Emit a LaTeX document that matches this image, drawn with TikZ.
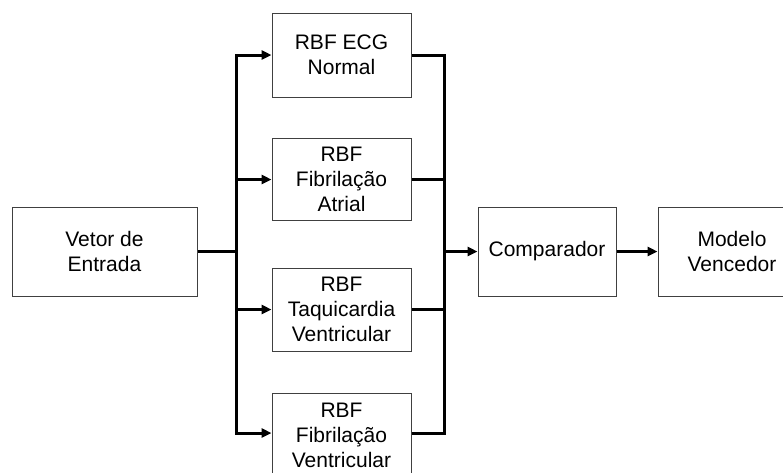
\documentclass[tikz,border=0pt]{standalone}
\usepackage{fontspec}
\setmainfont{Liberation Sans}
\usetikzlibrary{arrows.meta}
\begin{document}
\begin{tikzpicture}[x=1pt,y=-1pt,
  box/.style={draw=black!75, line width=1pt, fill=white, inner sep=0pt, align=center,
    font=\fontsize{21}{25}\selectfont},
  conn/.style={line width=3pt, black, line join=miter},
  arr/.style={conn, -{Triangle[length=10pt,width=9pt]}}]
\useasboundingbox (0,0) rectangle (783,472);
\clip (0,0) rectangle (783,472);
\node[box, minimum width=185pt, minimum height=89pt] (vetor) at (104.5,251.5) {Vetor de\\Entrada};
\node[box, minimum width=139pt, minimum height=84pt] (normal) at (341.5,55) {RBF ECG\\Normal};
\node[box, minimum width=139pt, minimum height=82pt] (atrial) at (341.5,179.5) {RBF\\Fibrilação\\Atrial};
\node[box, minimum width=139pt, minimum height=83pt] (taqui) at (341.5,309.5) {RBF\\Taquicardia\\Ventricular};
\node[box, minimum width=139pt, minimum height=84pt] (fibv) at (341.5,435) {RBF\\Fibrilação\\Ventricular};
\node[box, minimum width=138pt, minimum height=89pt] (comp) at (547,251.5) {Comparador};
\node[box, minimum width=148pt, minimum height=89pt] (modelo) at (732,251.5) {Modelo\\Vencedor};
\coordinate (busL) at (236,251.5);
\coordinate (busR) at (444,251.5);
\draw[conn] (vetor.east) -- (busL);
\draw[arr] (busL) |- (normal.west);
\draw[arr] (busL) |- (atrial.west);
\draw[arr] (busL) |- (taqui.west);
\draw[arr] (busL) |- ([yshift=2pt]fibv.west);
\draw[conn] (normal.east) -| (busR);
\draw[conn] (atrial.east) -| (busR);
\draw[conn] (taqui.east) -| (busR);
\draw[conn] ([yshift=2pt]fibv.east) -| (busR);
\draw[arr] (busR) -- (comp.west);
\draw[arr] (comp.east) -- (modelo.west);
\end{tikzpicture}
\end{document}
